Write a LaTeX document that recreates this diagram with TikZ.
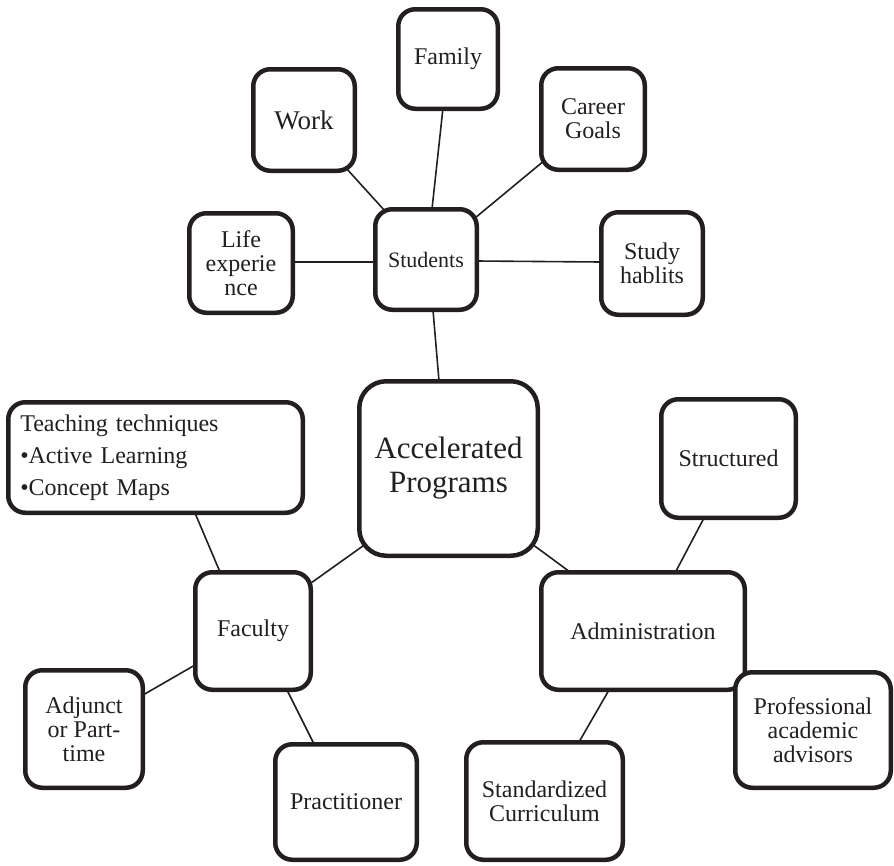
\documentclass[tikz,border=0pt]{standalone}
\usepackage{fontspec}
\setmainfont{Liberation Serif}
\usetikzlibrary{calc,backgrounds}
\definecolor{ink}{HTML}{231F20}
\newcommand\fsz[2]{\fontsize{#1}{#2}\selectfont}
\tikzset{
  box/.style={draw=ink, line width=4.5pt, rounded corners=17pt, fill=white,
    align=center, text=ink, inner sep=0pt, font=\fsz{24}{24}},
  conn/.style={draw=ink, line width=1.6pt}
}
\begin{document}
\begin{tikzpicture}[x=1pt,y=-1pt]
\useasboundingbox (0,0) rectangle (894,865);
% Students cluster
\node[box, minimum width=99.5, minimum height=99.5] (fam) at (448,59) {Family};
\node[box, minimum width=101.5, minimum height=101.5, font=\fsz{27}{27}] (work) at (304,120) {Work};
\node[box, minimum width=103.5, minimum height=101.5] (car) at (593,119) {Career\\Goals};
\node[box, minimum width=103.5, minimum height=99.5] (life) at (241,263) {Life\\experie\\nce};
\node[box, minimum width=101.5, minimum height=100.5, font=\fsz{22}{22}] (stu) at (426,259.5) {Students};
\node[box, minimum width=101.5, minimum height=102.5] (study) at (652,263.5) {Study\\hablits};
% centre
\node[box, minimum width=294.5, minimum height=110.5, align=left, text width=270.5,
  inner xsep=12pt, font=\fsz{24}{32}] (teach) at (155.5,457.5)
  {Teaching techniques\\•Active Learning\\•Concept Maps};
\node[box, minimum width=178.5, minimum height=174.5, rounded corners=27pt,
  font=\fsz{31}{34}] (acc) at (448.5,468.5) {Accelerated\\Programs};
\node[box, minimum width=134.5, minimum height=118.5] (str) at (728.5,458.5) {Structured};
% lower part
\node[box, minimum width=115.5, minimum height=117.5] (fac) at (253,631) {Faculty};
\node[box, minimum width=203.5, minimum height=117.5] (adm) at (643,631) {Administration};
\node[box, minimum width=117.5, minimum height=117.5] (adj) at (84,729) {Adjunct\\or Part-\\time};
\node[box, minimum width=155.5, minimum height=115.5] (prof) at (813,730) {Professional\\academic\\advisors};
\node[box, minimum width=141.5, minimum height=115.5] (prac) at (346,802) {Practitioner};
\node[box, minimum width=156.5, minimum height=117.5] (std) at (544.5,801) {Standardized\\Curriculum};
% connectors
\begin{pgfonlayer}{background}
\draw[conn] ($(fam.south)+(-5,-3)$) -- ($(stu.north)+(6,2)$);
\draw[conn] ($(work.south east)+(-11,-5)$) -- ($(stu.north west)+(12,4)$);
\draw[conn] ($(car.south west)+(6,-12)$) -- ($(stu.north east)+(-4,11)$);
\draw[conn] ($(life.east)+(-2,-1)$) -- ($(stu.west)+(2,2.5)$);
\draw[conn] ($(stu.east)+(-2,1.5)$) -- ($(study.west)+(2,-1.5)$);
\draw[conn] ($(stu.south)+(7,-2)$) -- ($(acc.north)+(-9.5,2)$);
\draw[conn] ($(teach.south)+(39.5,-2)$) -- ($(fac.north)+(-33,2)$);
\draw[conn] ($(fac.north east)+(-2,13)$) -- ($(acc.south west)+(8,-13.5)$);
\draw[conn] ($(fac.south west)+(2,-27)$) -- ($(adj.north east)+(-2,27)$);
\draw[conn] ($(fac.south east)+(-26,-2)$) -- ($(prac.north west)+(41,2)$);
\draw[conn] ($(acc.south east)+(-8,-14)$) -- ($(adm.north west)+(31,2)$);
\draw[conn] ($(str.south west)+(45,-2)$) -- ($(adm.north)+(32,3)$);
\draw[conn] ($(adm.south)+(-34,-2)$) -- ($(std.north)+(34.5,2)$);
\end{pgfonlayer}
\end{tikzpicture}
\end{document}
